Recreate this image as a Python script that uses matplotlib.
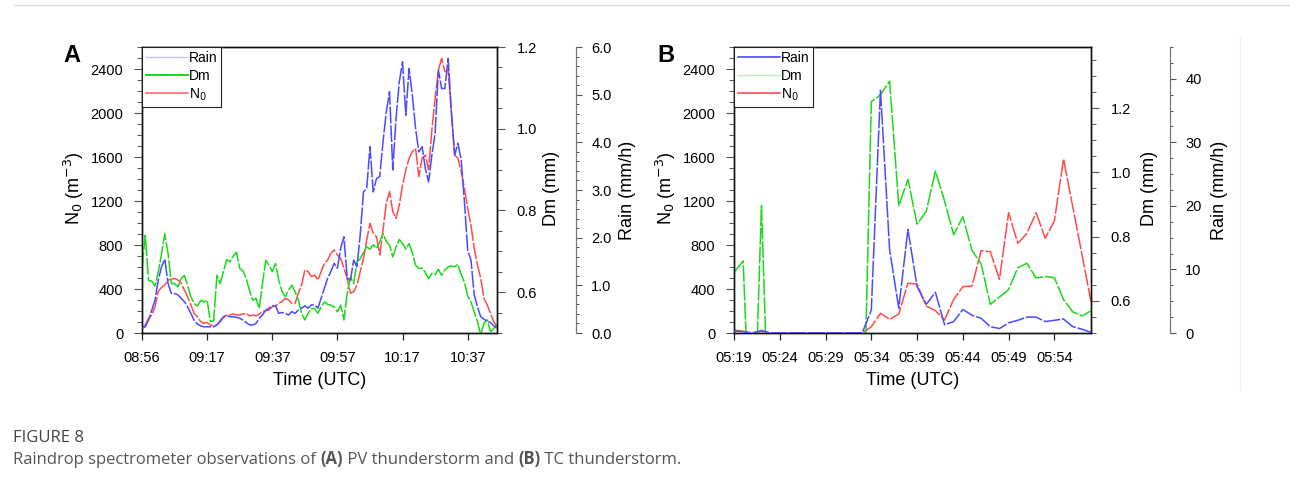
import numpy as np
import matplotlib
matplotlib.use("Agg")
import matplotlib.pyplot as plt
from matplotlib.ticker import MultipleLocator, FormatStrFormatter, FixedLocator
from matplotlib.lines import Line2D

plt.rcParams['font.family'] = ['Liberation Sans', 'DejaVu Sans']

# ---------------- Panel A data (PV thunderstorm, 1-min samples) ----------------
A_tick_labels = ["08:56", "09:17", "09:37", "09:57", "10:17", "10:37"]
A_tick_pos = [0, 20, 40, 60, 80, 100]

A_rain = [0.10, 0.13, 0.27, 0.48, 0.69, 1.11, 1.39, 1.55, 1.04, 0.83,
          0.83, 0.80, 0.73, 0.66, 0.55, 0.41, 0.27, 0.19, 0.15, 0.13,
          0.13, 0.13, 0.13, 0.17, 0.24, 0.33, 0.36, 0.34, 0.34, 0.33,
          0.31, 0.27, 0.22, 0.17, 0.17, 0.20, 0.31, 0.38, 0.48, 0.52,
          0.57, 0.57, 0.41, 0.43, 0.41, 0.38, 0.45, 0.41, 0.48, 0.52,
          0.57, 0.52, 0.59,
          0.59, 0.52, 0.73, 0.94, 1.15, 1.29, 1.46, 1.36, 1.78, 2.02,
          1.15, 1.11, 1.53, 1.39, 2.06, 2.96, 3.03, 3.91, 2.96, 3.24,
          3.28, 4.01, 4.64, 5.06, 3.42, 4.50, 5.27, 5.69, 4.57, 5.55,
          4.99, 4.29, 3.80, 3.91, 3.45, 3.17, 3.73, 4.19, 5.52, 5.13,
          5.13, 5.76, 4.64, 3.73, 3.98, 3.63, 2.75, 1.74, 1.53, 0.80,
          0.55, 0.34, 0.29, 0.25, 0.22, 0.15, 0.10]

A_dm = [0.658, 0.739, 0.629, 0.627, 0.615, 0.650, 0.694, 0.743, 0.694, 0.621,
        0.621, 0.613, 0.633, 0.641, 0.617, 0.589, 0.572, 0.566, 0.580, 0.576,
        0.580, 0.528, 0.530, 0.641, 0.621, 0.650, 0.680, 0.674, 0.688, 0.698,
        0.658, 0.652, 0.633, 0.605, 0.580, 0.585, 0.560, 0.621, 0.678, 0.666,
        0.650, 0.670, 0.629, 0.601, 0.589, 0.605, 0.617, 0.601, 0.580, 0.548,
        0.532, 0.548, 0.560,
        0.560, 0.548, 0.564, 0.576, 0.570, 0.568, 0.564, 0.552, 0.568, 0.532,
        0.597, 0.637, 0.621, 0.674, 0.682, 0.698, 0.711, 0.705, 0.716, 0.707,
        0.723, 0.743, 0.724, 0.715, 0.686, 0.711, 0.729, 0.719, 0.705, 0.719,
        0.697, 0.666, 0.658, 0.659, 0.648, 0.633, 0.646, 0.643, 0.656, 0.641,
        0.654, 0.662, 0.664, 0.662, 0.668, 0.643, 0.624, 0.591, 0.576, 0.552,
        0.528, 0.495, 0.524, 0.532, 0.503, 0.511, 0.520]

A_n0 = [42, 73, 133, 164, 239, 376, 415, 436, 482, 488,
        497, 482, 452, 391, 330, 255, 179, 148, 103, 88,
        94, 73, 64, 73, 112, 148, 164, 164, 173, 164,
        164, 173, 179, 155, 164, 155, 173, 194, 203, 209,
        239, 245, 270, 285, 315, 300, 270, 270, 361, 436,
        573, 558, 512,
        527, 482, 557, 633, 664, 724, 755, 709, 679, 588,
        497, 361, 376, 436, 557, 679, 845, 997, 906, 876,
        709, 936, 1179, 1285, 1103, 1042, 1164, 1345, 1482, 1588,
        1648, 1679, 1421, 1588, 1618, 1482, 1845, 2133, 2391, 2497,
        2376, 2391, 1997, 1618, 1588, 1467, 1315, 1133, 982, 770,
        618, 497, 315, 255, 179, 103, 57]

# ---------------- Panel B data (TC thunderstorm, 1-min samples) ----------------
B_tick_labels = ["05:19", "05:24", "05:29", "05:34", "05:39", "05:44", "05:49", "05:54"]
B_tick_pos = [0, 5, 10, 15, 20, 25, 30, 35]

B_rain = [0.3, 0.2, 0.0, 0.4, 0.0, 0.0, 0.0, 0.0, 0.0, 0.0,
          0.0, 0.0, 0.0, 0.0, 0.0, 3.6, 38.2, 13.1, 3.9, 16.3,
          7.3, 4.5, 6.4, 1.3, 1.8, 3.7, 2.8, 2.3, 1.0, 0.7,
          1.6, 2.0, 2.5, 2.5, 1.8, 2.0, 2.2, 1.0, 0.6, 0.1]

B_dm = [0.689, 0.724, 0.0, 0.896, 0.0, 0.0, 0.0, 0.0, 0.0, 0.0,
        0.0, 0.0, 0.0, 0.0, 0.0, 1.220, 1.241, 1.284, 0.896, 0.978,
        0.839, 0.878, 1.004, 0.911, 0.806, 0.862, 0.757, 0.715, 0.589, 0.612,
        0.635, 0.703, 0.717, 0.671, 0.676, 0.672, 0.604, 0.566, 0.553, 0.569]

B_n0 = [27, 15, 0, 15, 0, 0, 0, 0, 0, 0,
        0, 0, 0, 0, 0, 57, 179, 124, 173, 452,
        445, 245, 203, 118, 306, 421, 427, 748, 739, 488,
        1094, 815, 906, 1094, 861, 1021, 1582, 1150, 720, 285]

# ---------------- style ----------------
C_RAIN = "#4a4aff"
C_DM = "#1ad81a"
C_N0 = "#ff4a4a"
DASH = (0, (11, 1.2))
LW = 1.1
TICK_C = "#555555"
TS = 10.5

W, H = 1290, 486
fig = plt.figure(figsize=(W / 100, H / 100), dpi=100)


def fx(px):
    return px / W


def fy(py):
    return 1 - py / H


def make_panel(left, right, top, bottom, rain, dm, n0, xpos, xlabels, xmax,
               dm_lim, dm_major, rain_lim, rain_major, rain_minor, rain_fmt,
               rain_spine_px, legend_colors):
    ax = fig.add_axes([fx(left), fy(bottom), fx(right - left), (bottom - top) / H])
    ax2 = ax.twinx()
    ax3 = ax.twinx()
    x_rain = np.arange(len(rain))
    x_dm = np.arange(len(dm))
    x_n0 = np.arange(len(n0))

    ax.plot(x_n0, n0, color=C_N0, lw=LW, linestyle=DASH)
    ax2.plot(x_dm, dm, color=C_DM, lw=LW, linestyle=DASH)
    ax3.plot(x_rain, rain, color=C_RAIN, lw=LW, linestyle=DASH)

    ax.set_xlim(0, xmax)
    ax.set_ylim(0, 2600)
    ax2.set_ylim(*dm_lim)
    ax3.set_ylim(*rain_lim)

    # left N0 axis
    ax.yaxis.set_major_locator(FixedLocator([0, 400, 800, 1200, 1600, 2000, 2400]))
    ax.yaxis.set_minor_locator(MultipleLocator(100))
    ax.set_xticks(xpos)
    ax.set_xticklabels(xlabels)
    ax.tick_params(axis='y', which='major', direction='out', length=6, width=0.8,
                   color=TICK_C, pad=7.5, labelsize=TS)
    ax.tick_params(axis='y', which='minor', direction='out', length=3.5, width=0.7,
                   color=TICK_C)
    ax.tick_params(axis='x', which='major', direction='out', length=5, width=0.9,
                   color="#222222", pad=8, labelsize=TS)

    # Dm axis (on box right spine)
    ax2.yaxis.set_major_locator(FixedLocator(dm_major))
    ax2.yaxis.set_minor_locator(MultipleLocator(0.05))
    ax2.yaxis.set_major_formatter(FormatStrFormatter('%.1f'))
    ax2.tick_params(axis='y', which='major', direction='out', length=6, width=0.8,
                    color=TICK_C, pad=8, labelsize=TS)
    ax2.tick_params(axis='y', which='minor', direction='out', length=3.5, width=0.7,
                    color=TICK_C)

    # Rain axis (offset spine)
    frac = (rain_spine_px - left) / (right - left)
    ax3.spines['right'].set_position(('axes', frac))
    ax3.spines['right'].set_color('#777777')
    ax3.spines['right'].set_linewidth(0.9)
    for s in ['top', 'left', 'bottom']:
        ax3.spines[s].set_visible(False)
    ax3.yaxis.set_major_locator(MultipleLocator(rain_major))
    ax3.yaxis.set_minor_locator(MultipleLocator(rain_minor))
    ax3.yaxis.set_major_formatter(FormatStrFormatter(rain_fmt))
    ax3.tick_params(axis='y', which='major', direction='out', length=4, width=0.8,
                    color=TICK_C, pad=7, labelsize=TS)
    ax3.tick_params(axis='y', which='minor', direction='out', length=2.5, width=0.7,
                    color=TICK_C)

    for a in (ax, ax2):
        for s in a.spines.values():
            s.set_linewidth(1.0)
            s.set_color('#111111')

    # legend
    handles = [Line2D([], [], color=legend_colors[0][0], lw=legend_colors[0][1]),
               Line2D([], [], color=legend_colors[1][0], lw=legend_colors[1][1]),
               Line2D([], [], color=legend_colors[2][0], lw=legend_colors[2][1])]
    leg = ax3.legend(handles, ["Rain", "Dm", "N$_0$"], loc='upper left',
                     bbox_to_anchor=(0, 1), borderaxespad=0, frameon=True,
                     fancybox=False, edgecolor='#222222', framealpha=1,
                     fontsize=10, handlelength=3.0, handletextpad=0.05,
                     borderpad=0.3, labelspacing=0.25)
    leg.get_frame().set_linewidth(0.8)
    return ax, ax2, ax3


# Panel A
make_panel(142, 497, 47, 333, A_rain, A_dm, A_n0, A_tick_pos, A_tick_labels, 109,
           (0.5, 1.2), [0.6, 0.8, 1.0, 1.2], (0, 6.0), 1.0, 0.2, '%.1f', 576,
           [("#c4c4ff", 1.0), (C_DM, 1.4), ("#ff6a6a", 1.2)])

# Panel B
make_panel(734, 1091, 47, 333, B_rain, B_dm, B_n0, B_tick_pos, B_tick_labels, 39,
           (0.5, 1.39), [0.6, 0.8, 1.0, 1.2], (0, 45), 10, 2.5, '%d', 1170,
           [(C_RAIN, 1.2), ("#b4f0b4", 1.0), (C_N0, 1.2)])

# axis labels
for xc, xt in [(74, 320), (666, 913)]:
    fig.text(fx(xc), fy(188), "N$_0$ (m$^{-3}$)", rotation=90, ha='center',
             va='center', fontsize=13)
    fig.text(fx(xt), fy(380), "Time (UTC)", ha='center', va='center', fontsize=13)
for xd, xr in [(552, 628), (1149, 1220)]:
    fig.text(fx(xd), fy(188), "Dm (mm)", rotation=90, ha='center', va='center',
             fontsize=13)
    fig.text(fx(xr), fy(190), "Rain (mm/h)", rotation=90, ha='center', va='center',
             fontsize=13)

# panel letters
fig.text(fx(63), fy(62), "A", fontsize=17, fontweight='bold', ha='left', va='baseline')
fig.text(fx(657), fy(62), "B", fontsize=17, fontweight='bold', ha='left', va='baseline')

# page separator lines
fig.add_artist(Line2D([fx(15), fx(1290)], [fy(5), fy(5)], color='#d9d9d9', lw=1.0))
fig.add_artist(Line2D([fx(1240), fx(1240)], [fy(38), fy(390)], color='#f0f0f0', lw=1.0))

# caption
cap_font = ['Open Sans', 'DejaVu Sans']
fig.text(fx(13), fy(442), "FIGURE 8", fontsize=12, color='#444444',
         family=cap_font, ha='left', va='baseline')

renderer = fig.canvas.get_renderer()
pieces = [("Raindrop spectrometer observations of ", 'normal'),
          ("(A)", 'bold'),
          (" PV thunderstorm and ", 'normal'),
          ("(B)", 'bold'),
          (" TC thunderstorm.", 'normal')]
xcur = 13
for txt, wt in pieces:
    t = fig.text(fx(xcur), fy(464), txt, fontsize=12, color='#555555',
                 family=cap_font, fontweight=wt, ha='left', va='baseline')
    bb = t.get_window_extent(renderer=renderer)
    xcur += bb.width

fig.savefig("out.png", dpi=100, facecolor='white')
